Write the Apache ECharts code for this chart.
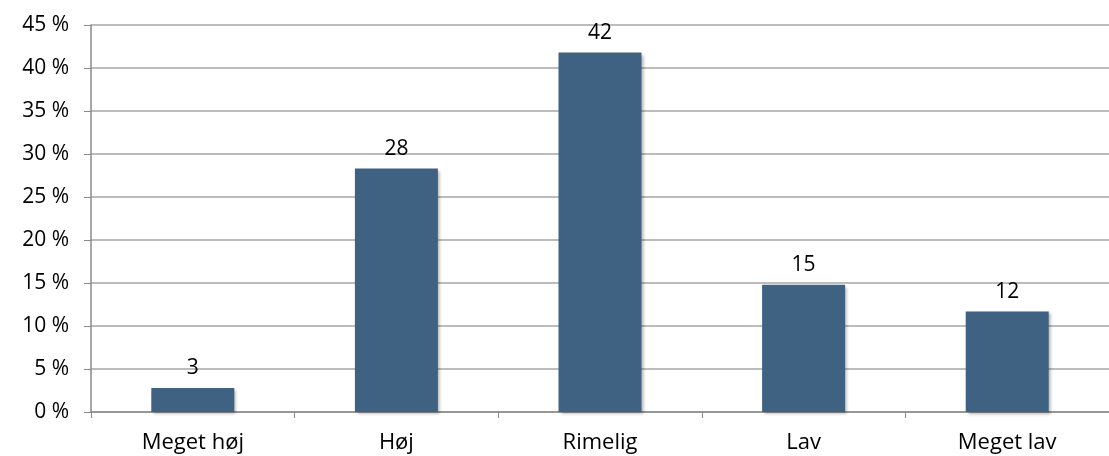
<!DOCTYPE html>
<html>
<head>
<meta charset="utf-8">
<script src="https://cdn.jsdelivr.net/npm/echarts@6/dist/echarts.min.js"></script>
<style>
html,body{margin:0;padding:0;background:#fff;}
#chart{width:1109px;height:456px;}
</style>
</head>
<body>
<div id="chart"></div>
<script>
const categories = ["Meget høj", "Høj", "Rimelig", "Lav", "Meget lav"];
const values = [2.8, 28.3, 41.8, 14.8, 11.7];
const valueLabels = ["3", "28", "42", "15", "12"];
const yTicks = [0, 5, 10, 15, 20, 25, 30, 35, 40, 45];

const chart = echarts.init(document.getElementById('chart'));
const font = "'Open Sans', 'DejaVu Sans', sans-serif";
chart.setOption({
  animation: false,
  grid: { left: 91, top: 25, width: 1032, height: 387, containLabel: false },
  xAxis: {
    type: 'category',
    data: categories,
    axisLine: { lineStyle: { color: '#8a8a8a', width: 1.5 } },
    axisTick: { show: true, length: 6, lineStyle: { color: '#8a8a8a' } },
    axisLabel: { color: '#000', fontSize: 22, fontFamily: font, margin: 20 }
  },
  yAxis: {
    type: 'value',
    min: 0, max: 45, interval: 5,
    axisLine: { show: true, lineStyle: { color: '#8a8a8a', width: 1.5 } },
    axisTick: { show: true, length: 7, lineStyle: { color: '#8a8a8a' } },
    splitLine: { lineStyle: { color: '#a6a6a6', width: 1.5 } },
    axisLabel: {
      color: '#000', fontSize: 21, fontFamily: font, margin: 22,
      formatter: v => yTicks.includes(v) ? v + ' %' : ''
    }
  },
  series: [{
    type: 'bar',
    data: values,
    barWidth: 83,
    itemStyle: {
      color: '#3f6282',
      shadowColor: 'rgba(0,0,0,0.3)', shadowBlur: 3, shadowOffsetX: 2, shadowOffsetY: 2
    },
    label: {
      show: true, position: 'top', distance: 9,
      color: '#000', fontSize: 21, fontFamily: font,
      formatter: p => valueLabels[p.dataIndex]
    }
  }]
});
</script>
</body>
</html>
